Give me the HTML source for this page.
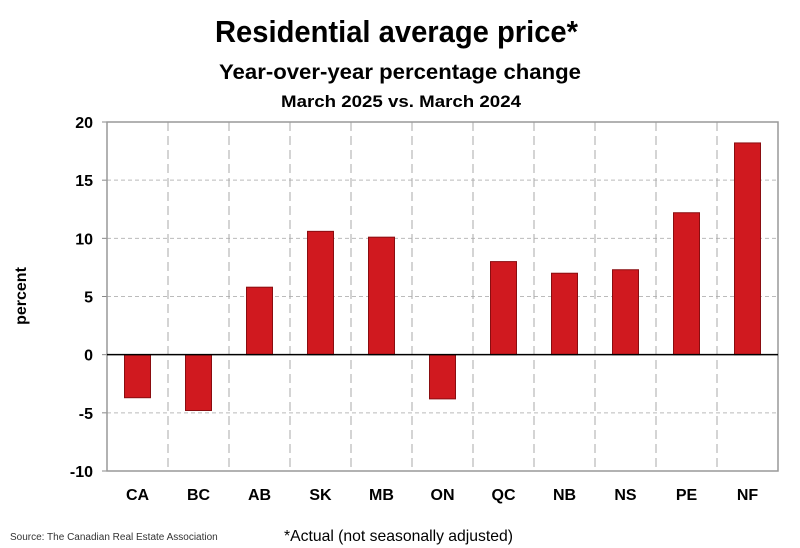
<!DOCTYPE html>
<html><head><meta charset="utf-8"><style>
body{margin:0;background:#fff;}
svg{display:block;font-family:"Liberation Sans",sans-serif;}
</style></head><body>
<svg id="chart" width="800" height="548">
<text x="215" y="42" textLength="363" lengthAdjust="spacingAndGlyphs" font-size="31" font-weight="bold">Residential average price*</text>
<text x="219" y="79" textLength="362" lengthAdjust="spacingAndGlyphs" font-size="21" font-weight="bold">Year-over-year percentage change</text>
<text x="281" y="107" textLength="240" lengthAdjust="spacingAndGlyphs" font-size="17" font-weight="bold">March 2025 vs. March 2024</text>
<text transform="translate(26,296) rotate(-90)" text-anchor="middle" font-size="16" font-weight="bold">percent</text>
<text x="10" y="540" font-size="10" fill="#333">Source: The Canadian Real Estate Association</text>
<text x="284" y="541" textLength="229" lengthAdjust="spacingAndGlyphs" font-size="16">*Actual (not seasonally adjusted)</text>
<g id="plot"></g>
</svg>
<script>
const categories=["CA","BC","AB","SK","MB","ON","QC","NB","NS","PE","NF"];
const values=[-3.7,-4.8,5.8,10.6,10.1,-3.8,8.0,7.0,7.3,12.2,18.2];
const yTicks=[20,15,10,5,0,-5,-10];
const L=107,R=778,T=122,B=471,yMin=-10,yMax=20;
const y=v=>T+(yMax-v)/(yMax-yMin)*(B-T);
const bw=(R-L)/categories.length;
const x=i=>L+bw*i;
const g=document.getElementById('plot');
const NS="http://www.w3.org/2000/svg";
function mk(t,a){const e=document.createElementNS(NS,t);for(const k in a)e.setAttribute(k,a[k]);g.appendChild(e);return e;}
yTicks.forEach(v=>{
 if(v!==0&&v!==yMax&&v!==yMin){const l=mk('line',{x1:L,x2:R,y1:y(v),y2:y(v),stroke:'#bbb','stroke-dasharray':'4,3'});
 
 }
 const t=mk('text',{x:L-14,y:y(v)+6,'text-anchor':'end','font-size':'16','font-weight':'bold'});t.textContent=v;
 
 
 const tk=mk('line',{x1:L-5,x2:L,y1:y(v),y2:y(v),stroke:'#888'});
 
 
});
for(let i=1;i<categories.length;i++){
 const l=mk('line',{x1:x(i),x2:x(i),y1:T,y2:B,stroke:'#aaa','stroke-dasharray':'9,5'});
 
 
}
const fr=mk('rect',{x:L,y:T,width:R-L,height:B-T,fill:'none',stroke:'#999','stroke-width':1.5});


categories.forEach((c,i)=>{
 const v=values[i];const cx=x(i)+bw/2;
 const r=mk('rect',{x:cx-13,y:Math.min(y(v),y(0)),width:26,height:Math.abs(y(v)-y(0)),fill:'#d0191f',stroke:'#8a0d10','stroke-width':1});
 
 
 const t=mk('text',{x:cx,y:500,'text-anchor':'middle','font-size':'16','font-weight':'bold'});t.textContent=c;
 
 
});
const z=mk('line',{x1:L,x2:R,y1:y(0),y2:y(0),stroke:'#000','stroke-width':1.5});


</script>
</body></html>
